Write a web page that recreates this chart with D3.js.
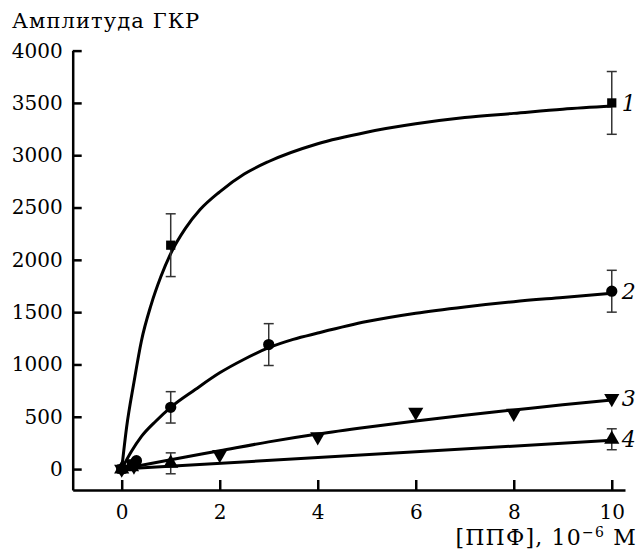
<!DOCTYPE html>
<html><head><meta charset="utf-8">
<script src="https://cdn.jsdelivr.net/npm/d3@7"></script>
<style>body{margin:0;background:#fff}svg{display:block}</style>
</head><body>
<svg id="c" width="639" height="551"></svg>
<script>
// Data
const xTicks = [0, 2, 4, 6, 8, 10];
const yTicks = [0, 500, 1000, 1500, 2000, 2500, 3000, 3500, 4000];
const seriesLabels = ["1", "2", "3", "4"];

// measured points: [x, y, err]
const pts1 = [[0, 0, 0], [0.2, 50, 0], [1, 2140, 300], [10, 3500, 300]];
const pts2 = [[0, 0, 0], [0.3, 80, 0], [1, 590, 150], [3, 1190, 200], [10, 1700, 200]];
const pts3 = [[0, 0, 0], [0.25, 30, 0], [2, 140, 0], [4, 310, 0], [6, 545, 0], [8, 535, 0], [10, 675, 0]];
const pts4 = [[0, 0, 0], [0.2, 20, 0], [1, 55, 100], [10, 285, 100]];

// fitted curves
const fitX1 = [0, 0.1, 0.25, 0.4, 0.6, 0.8, 1, 1.3, 1.6, 2, 2.5, 3, 4, 5, 6, 7, 8, 9, 10];
const fitY1 = [0, 400, 830, 1220, 1570, 1840, 2060, 2300, 2480, 2650, 2820, 2940, 3110, 3220, 3300, 3360, 3400, 3440, 3470];
const fitX2 = [0, 0.2, 0.4, 0.7, 1, 1.5, 2, 2.5, 3, 3.5, 4, 5, 6, 7, 8, 9, 10];
const fitY2 = [0, 170, 310, 460, 590, 760, 920, 1050, 1160, 1240, 1300, 1410, 1490, 1550, 1600, 1640, 1680];
const fitX3 = [0, 1, 2, 3, 4, 5, 6, 7, 8, 9, 10];
const fitY3 = [0, 90, 175, 260, 335, 400, 460, 515, 565, 615, 660];
const fitX4 = [0, 10];
const fitY4 = [0, 275];

const FONT = "DejaVu Serif";
const svg = d3.select("#c");
const x = d3.scaleLinear().domain([-1, 10.27]).range([72.7, 625]);
const y = d3.scaleLinear().domain([-200, 4000]).range([490, 50.6]);

const line = d3.line().x(d => x(d[0])).y(d => y(d[1])).curve(d3.curveMonotoneX);
const fits = [[fitX1, fitY1], [fitX2, fitY2], [fitX3, fitY3], [fitX4, fitY4]];
fits.forEach(([fx, fy]) => {
  svg.append("path").datum(fx.map((v, i) => [v, fy[i]]))
    .attr("d", line).attr("fill", "none").attr("stroke", "#000").attr("stroke-width", 3);
});

// error bars
const allPts = [pts1, pts2, pts3, pts4];
allPts.forEach(p => {
  p.filter(d => d[2] > 0).forEach(d => {
    const g = svg.append("g").attr("stroke", "#333").attr("stroke-width", 1.5);
    g.append("line").attr("x1", x(d[0])).attr("x2", x(d[0])).attr("y1", y(d[1] - d[2])).attr("y2", y(d[1] + d[2]));
    [d[1] - d[2], d[1] + d[2]].forEach(v => g.append("line").attr("x1", x(d[0]) - 5).attr("x2", x(d[0]) + 5).attr("y1", y(v)).attr("y2", y(v)));
  });
});

// markers
const symSquare = d3.symbol().type(d3.symbolSquare).size(85);
const symCircle = d3.symbol().type(d3.symbolCircle).size(100);
const symTri = d3.symbol().type(d3.symbolTriangle).size(100);
pts1.forEach(d => svg.append("path").attr("d", symSquare()).attr("transform", `translate(${x(d[0])},${y(d[1])})`));
pts2.forEach(d => svg.append("path").attr("d", symCircle()).attr("transform", `translate(${x(d[0])},${y(d[1])})`));
pts3.forEach(d => svg.append("path").attr("d", symTri()).attr("transform", `translate(${x(d[0])},${y(d[1])}) rotate(180)`));
pts4.forEach(d => svg.append("path").attr("d", symTri()).attr("transform", `translate(${x(d[0])},${y(d[1])})`));

// series labels
const labelY = [3500, 1700, 675, 285];
seriesLabels.forEach((s, i) => {
  svg.append("text").attr("x", x(10) + 10).attr("y", y(labelY[i])).attr("dy", "0.35em")
    .attr("font-size", 22).attr("font-style", "italic").attr("font-family", FONT).text(s);
});

// axes
const ax = svg.append("g").attr("transform", `translate(0,490)`)
  .call(d3.axisBottom(x).tickValues(xTicks).tickFormat(d3.format("d")).tickSizeInner(-10).tickSizeOuter(0).tickPadding(15));
const ay = svg.append("g").attr("transform", `translate(72.7,0)`)
  .call(d3.axisLeft(y).tickValues(yTicks).tickFormat(d3.format("d")).tickSizeInner(-9).tickSizeOuter(0).tickPadding(10));
[ax, ay].forEach(a => {
  a.attr("font-family", null).attr("font-size", null);
  a.selectAll("path,line").attr("stroke", "#000").attr("stroke-width", 2.5);
  a.selectAll("text").attr("fill", "#000").attr("font-family", FONT).attr("font-size", 20);
});

svg.append("text").attr("x", 12).attr("y", 28).attr("font-size", 21).attr("letter-spacing", 1.1)
  .attr("font-family", FONT).text("Амплитуда ГКР");
const xl = svg.append("text").attr("x", 637).attr("y", 545).attr("text-anchor", "end").attr("font-size", 22)
  .attr("letter-spacing", 1.2).attr("font-family", FONT);
xl.append("tspan").text("[ППФ], 10");
xl.append("tspan").attr("dy", -8).attr("font-size", 14).text("−6");
xl.append("tspan").attr("dy", 8).text(" M");
</script>
</body></html>
